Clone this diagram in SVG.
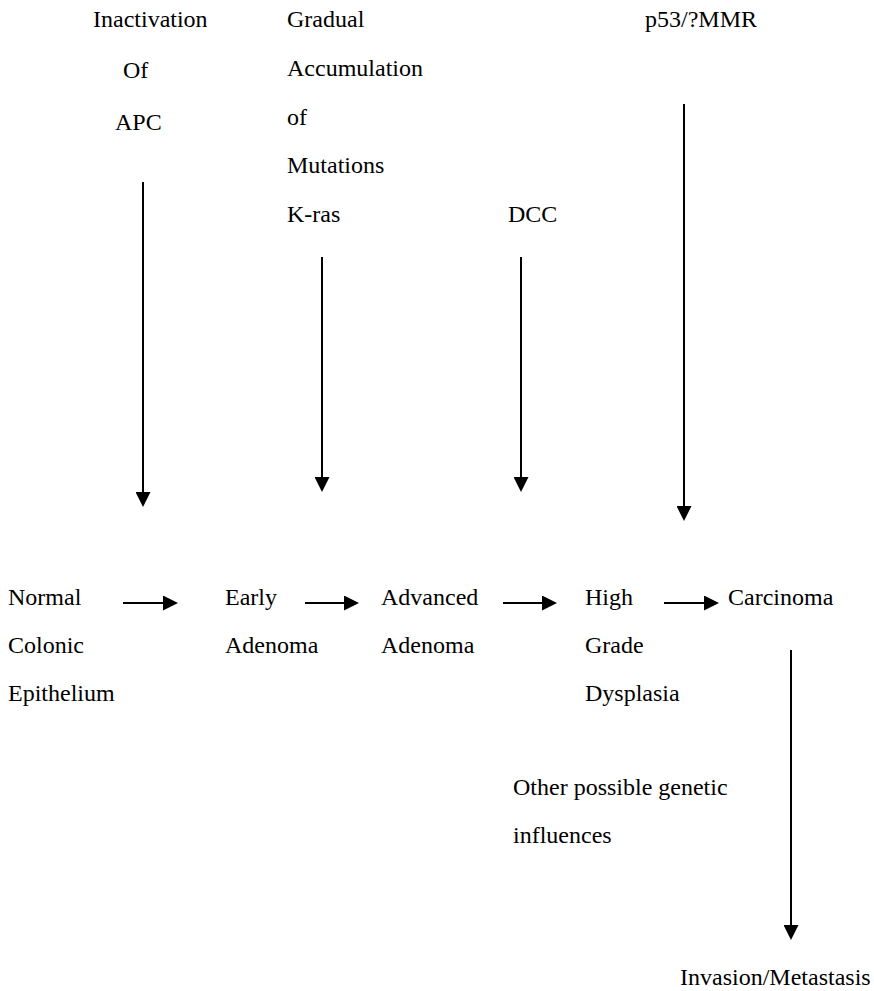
<svg xmlns="http://www.w3.org/2000/svg" width="874" height="991" viewBox="0 0 874 991">
<style>
text{font-family:"Liberation Serif","Times New Roman","DejaVu Serif",serif;font-size:24px;fill:#000}
.c{stroke:#000;stroke-width:2;fill:none}
</style>
<defs>
<marker id="ah" viewBox="0 0 15 15" markerWidth="15" markerHeight="15" refX="3" refY="7.5" orient="auto" markerUnits="userSpaceOnUse">
<path d="M0,0 L15,7.5 L0,15 z" fill="#000"/>
</marker>
</defs>
<rect width="874" height="991" fill="#fff"/>
<g id="apc">
<text x="93" y="27">Inactivation</text>
<text x="123" y="78">Of</text>
<text x="115" y="130">APC</text>
</g>
<g id="kras">
<text x="287" y="27">Gradual</text>
<text x="287" y="76">Accumulation</text>
<text x="287" y="125">of</text>
<text x="287" y="173">Mutations</text>
<text x="287" y="222">K-ras</text>
</g>
<g id="dcc"><text x="508" y="222">DCC</text></g>
<g id="p53"><text x="645" y="27">p53/?MMR</text></g>
<g id="normal">
<text x="8" y="605">Normal</text>
<text x="8" y="653">Colonic</text>
<text x="8" y="701">Epithelium</text>
</g>
<g id="early">
<text x="225" y="605">Early</text>
<text x="225" y="653">Adenoma</text>
</g>
<g id="advanced">
<text x="381" y="605">Advanced</text>
<text x="381" y="653">Adenoma</text>
</g>
<g id="hgd">
<text x="585" y="605">High</text>
<text x="585" y="653">Grade</text>
<text x="585" y="701">Dysplasia</text>
</g>
<g id="carcinoma"><text x="728" y="605">Carcinoma</text></g>
<g id="other">
<text x="513" y="795">Other possible genetic</text>
<text x="513" y="843">influences</text>
</g>
<g id="invasion"><text x="680" y="985">Invasion/Metastasis</text></g>
<g id="connectors" class="c">
<line x1="143" y1="182" x2="143" y2="495" marker-end="url(#ah)"/>
<line x1="322" y1="257" x2="322" y2="480" marker-end="url(#ah)"/>
<line x1="521" y1="257" x2="521" y2="480" marker-end="url(#ah)"/>
<line x1="684" y1="104" x2="684" y2="509" marker-end="url(#ah)"/>
<line x1="791" y1="650" x2="791" y2="928" marker-end="url(#ah)"/>
<line x1="123" y1="603" x2="166" y2="603" marker-end="url(#ah)"/>
<line x1="305" y1="603" x2="347" y2="603" marker-end="url(#ah)"/>
<line x1="503" y1="603" x2="545" y2="603" marker-end="url(#ah)"/>
<line x1="664" y1="603" x2="707" y2="603" marker-end="url(#ah)"/>
</g>
</svg>
